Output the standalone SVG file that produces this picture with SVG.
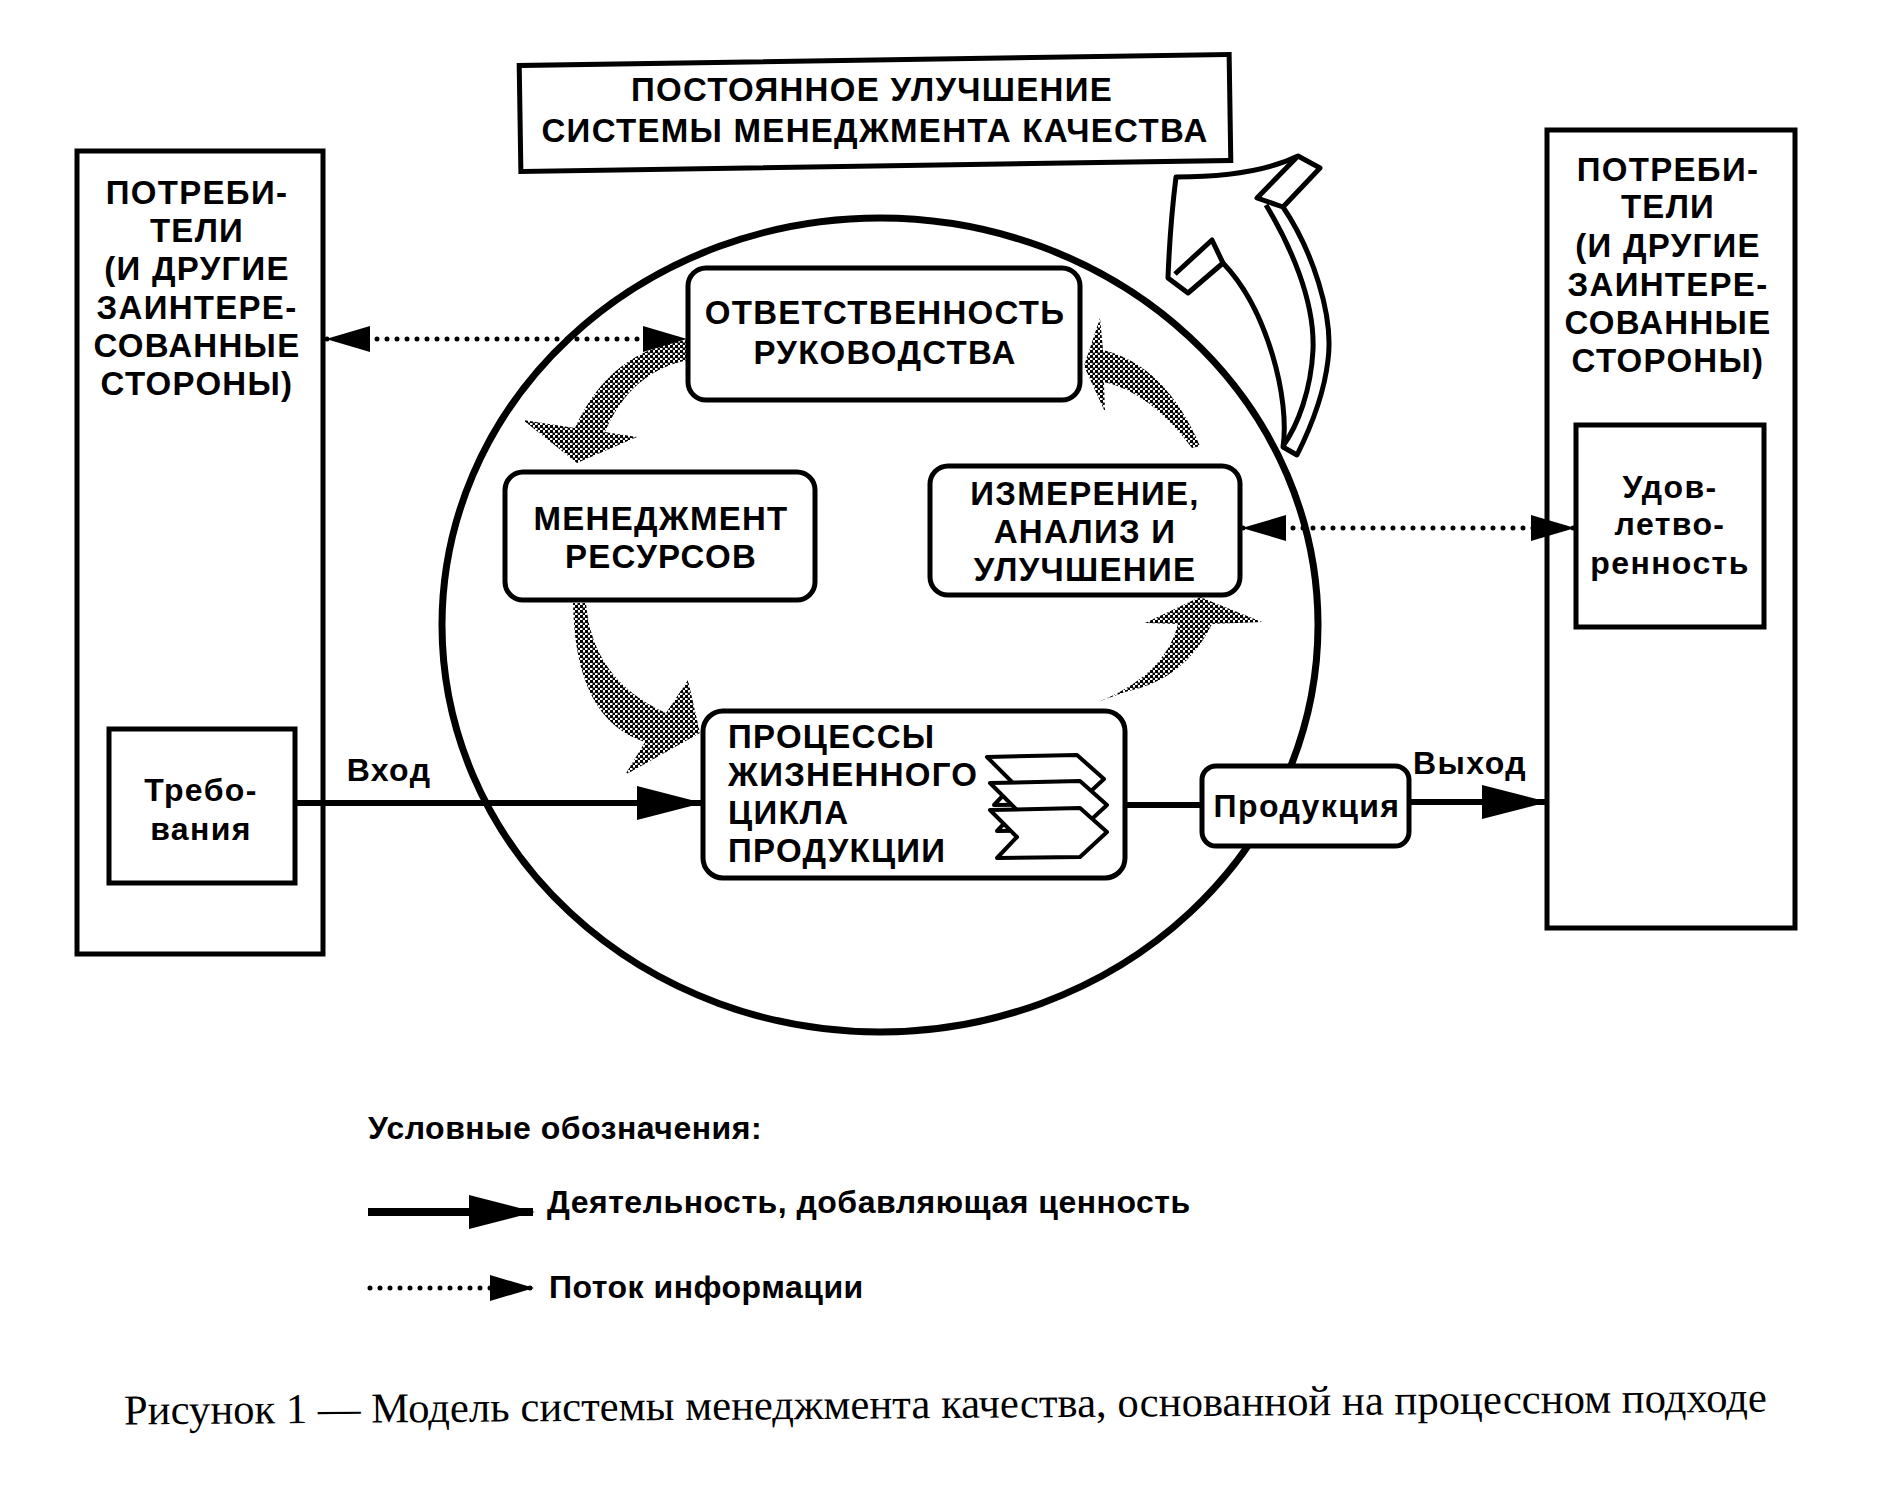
<svg xmlns="http://www.w3.org/2000/svg" width="1891" height="1487" viewBox="0 0 1891 1487">
<defs>
<style>
.box{fill:#fff;stroke:#000;stroke-width:5}
.t{font-family:"Liberation Sans",Arial,sans-serif;font-weight:bold;font-size:33px;fill:#000;text-anchor:middle;letter-spacing:1.3px}
.s{font-size:32px;letter-spacing:1.4px}
.g{font-size:32px;letter-spacing:0.5px}
.l{text-anchor:start}
.cap{font-family:"Liberation Serif","Times New Roman",serif;font-size:42.5px;fill:#000}
.solid{stroke:#000;stroke-width:6;fill:none}
.dot{stroke:#000;stroke-width:5;fill:none;stroke-linecap:round;stroke-dasharray:0 10}
.ht{fill:url(#ht);stroke:none}
.outline{fill:#fff;stroke:#000;stroke-width:5;stroke-linejoin:round}
.fold{fill:none;stroke:#000;stroke-width:5;stroke-linejoin:round}
.chev{fill:#fff;stroke:#000;stroke-width:4;stroke-linejoin:round}
</style>
<pattern id="ht" width="5" height="5" patternUnits="userSpaceOnUse"><rect x="0" y="0" width="3" height="3" fill="#000"/><rect x="2.5" y="2.5" width="3" height="3" fill="#000"/></pattern>
<marker id="ahS" markerUnits="userSpaceOnUse" markerWidth="66" markerHeight="36" refX="64" refY="18" orient="auto-start-reverse" viewBox="0 0 66 36"><path d="M0,1 L66,18 L0,35 Z" fill="#000"/></marker>
<marker id="ahD" markerUnits="userSpaceOnUse" markerWidth="44" markerHeight="28" refX="43" refY="14" orient="auto-start-reverse" viewBox="0 0 44 28"><path d="M0,1 L44,14 L0,27 Z" fill="#000"/></marker>
<path id="chevp" d="M0,0 L90,-2 L117,22 L90,47 L7,48 L27,27 Z"/>
</defs>

<rect width="1891" height="1487" fill="#fff"/>

<g id="circle"><ellipse cx="880" cy="625" rx="438" ry="407" fill="none" stroke="#000" stroke-width="7"/></g>

<g id="improve-arrow">
<path class="outline" d="M1176,177 Q1255,177 1298,156 L1320,168 L1283,207 C1312,250 1334,315 1328,360 C1324,395 1312,425 1297,455 L1283,447 C1290,400 1268,310 1223,263 L1188,293 L1168,278 Q1170,225 1176,177 Z"/>
<path class="fold" d="M1175,274 L1212,240 L1223,263 M1298,156 L1257,198 L1283,207 M1266,205 C1290,245 1315,300 1313,350 C1311,390 1298,425 1283,446"/>
</g>

<g id="cycle-arrows">
<path class="ht" d="M688,340 Q610,350 575,428 L523,420 L577,463 L637,437 L605,432 Q630,372 688,360 Z"/>
<path class="ht" d="M573,603 L586,603 Q592,680 666,713 L688,680 L700,733 L625,775 L645,742 Q575,720 573,603 Z"/>
<path class="ht" d="M1098,702 Q1165,675 1178,624 L1145,623 L1200,597 L1262,622 L1212,624 Q1185,680 1125,692 Z"/>
<path class="ht" d="M1100,318 L1103,350 Q1165,365 1200,446 L1192,448 Q1150,392 1104,382 L1105,412 L1084,366 Z"/>
</g>

<g id="top-box">
<rect class="box" x="520" y="60" width="710" height="106" transform="rotate(-0.9 875 113)"/>
<text class="t" x="872" y="101">ПОСТОЯННОЕ УЛУЧШЕНИЕ</text>
<text class="t" x="875" y="142">СИСТЕМЫ МЕНЕДЖМЕНТА КАЧЕСТВА</text>
</g>

<g id="customers-left">
<rect class="box" x="77" y="151" width="246" height="803"/>
<text class="t" x="197" y="204">ПОТРЕБИ-</text>
<text class="t" x="197" y="242">ТЕЛИ</text>
<text class="t" x="197" y="280">(И ДРУГИЕ</text>
<text class="t" x="197" y="319">ЗАИНТЕРЕ-</text>
<text class="t" x="197" y="357">СОВАННЫЕ</text>
<text class="t" x="197" y="395">СТОРОНЫ)</text>
</g>
<g id="requirements">
<rect class="box" x="109" y="729" width="186" height="154"/>
<text class="t s" x="201" y="801">Требо-</text>
<text class="t s" x="201" y="840">вания</text>
</g>

<g id="customers-right">
<rect class="box" x="1547" y="130" width="248" height="798"/>
<text class="t" x="1668" y="181">ПОТРЕБИ-</text>
<text class="t" x="1668" y="218">ТЕЛИ</text>
<text class="t" x="1668" y="257">(И ДРУГИЕ</text>
<text class="t" x="1668" y="296">ЗАИНТЕРЕ-</text>
<text class="t" x="1668" y="334">СОВАННЫЕ</text>
<text class="t" x="1668" y="372">СТОРОНЫ)</text>
</g>
<g id="satisfaction">
<rect class="box" x="1576" y="425" width="188" height="202"/>
<text class="t s" x="1670" y="498">Удов-</text>
<text class="t s" x="1670" y="535">летво-</text>
<text class="t s" x="1670" y="574">ренность</text>
</g>

<g id="management">
<rect class="box" x="688" y="268" width="392" height="132" rx="18"/>
<text class="t" x="885" y="324">ОТВЕТСТВЕННОСТЬ</text>
<text class="t" x="885" y="364">РУКОВОДСТВА</text>
</g>
<g id="resources">
<rect class="box" x="505" y="472" width="310" height="128" rx="18"/>
<text class="t" x="661" y="530">МЕНЕДЖМЕНТ</text>
<text class="t" x="661" y="568">РЕСУРСОВ</text>
</g>
<g id="measurement">
<rect class="box" x="930" y="466" width="310" height="129" rx="18"/>
<text class="t" x="1085" y="505">ИЗМЕРЕНИЕ,</text>
<text class="t" x="1085" y="543">АНАЛИЗ И</text>
<text class="t" x="1085" y="581">УЛУЧШЕНИЕ</text>
</g>
<g id="processes">
<rect class="box" x="703" y="711" width="422" height="167" rx="20"/>
<text class="t l" x="728" y="748">ПРОЦЕССЫ</text>
<text class="t l" x="728" y="786">ЖИЗНЕННОГО</text>
<text class="t l" x="728" y="824">ЦИКЛА</text>
<text class="t l" x="728" y="862">ПРОДУКЦИИ</text>
<use href="#chevp" class="chev" x="987" y="757"/>
<use href="#chevp" class="chev" x="990" y="783"/>
<use href="#chevp" class="chev" x="990" y="810"/>
</g>
<g id="product">
<rect class="box" x="1202" y="766" width="207" height="80" rx="14"/>
<text class="t s" x="1307" y="817">Продукция</text>
</g>

<g id="connectors">
<line class="dot" x1="327" y1="339" x2="686" y2="339" marker-start="url(#ahD)" marker-end="url(#ahD)"/>
<line class="dot" x1="1243" y1="528" x2="1574" y2="528" marker-start="url(#ahD)" marker-end="url(#ahD)"/>
<line class="solid" x1="296" y1="803" x2="701" y2="803" marker-end="url(#ahS)"/>
<line class="solid" x1="1125" y1="805" x2="1202" y2="805"/>
<line class="solid" x1="1409" y1="802" x2="1546" y2="802" marker-end="url(#ahS)"/>
<text class="t s" x="389" y="781">Вход</text>
<text class="t s" x="1470" y="774">Выход</text>
</g>

<g id="legend">
<text class="t g l" x="368" y="1139">Условные обозначения:</text>
<line stroke="#000" stroke-width="8" x1="368" y1="1212" x2="533" y2="1212" marker-end="url(#ahS)"/>
<text class="t g l" x="547" y="1213">Деятельность, добавляющая ценность</text>
<line class="dot" x1="370" y1="1288" x2="533" y2="1288" marker-end="url(#ahD)"/>
<text class="t g l" x="549" y="1298">Поток информации</text>
</g>

<text class="cap" x="124" y="1418" textLength="1643" lengthAdjust="spacingAndGlyphs" transform="rotate(-0.45 945 1410)">Рисунок 1 — Модель системы менеджмента качества, основанной на процессном подходе</text>
</svg>
